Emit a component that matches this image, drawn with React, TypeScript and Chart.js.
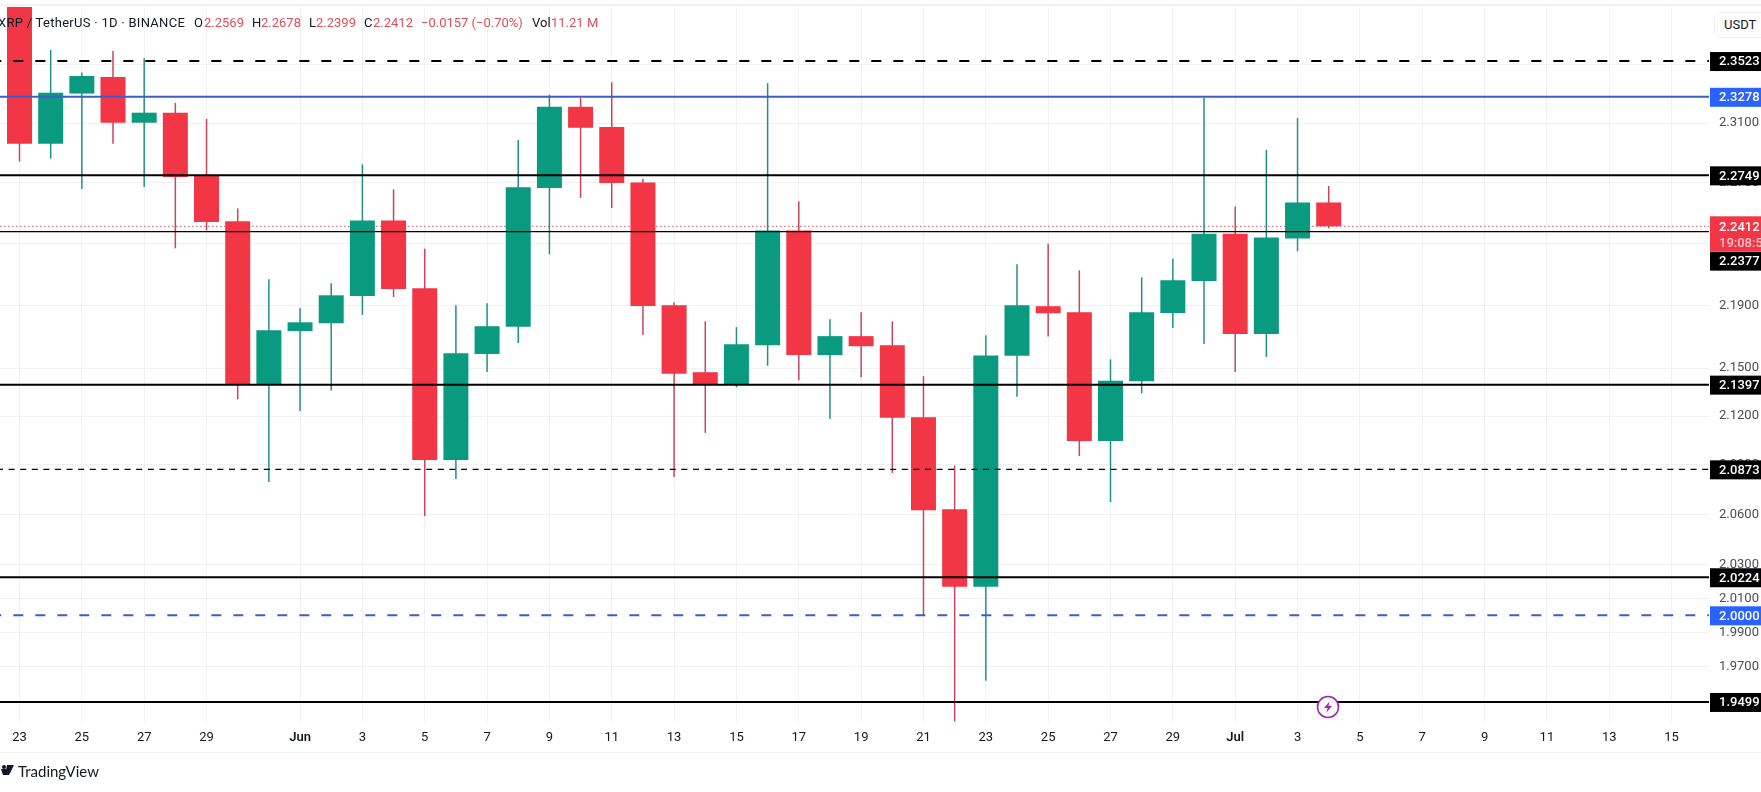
import React, { useEffect, useRef } from "react";
import { Chart, registerables } from "chart.js";

Chart.register(...registerables);

// Daily candles, 23 May to 4 Jul
const dates = [
  "May 23","May 24","May 25","May 26","May 27","May 28","May 29","May 30","May 31",
  "Jun 1","Jun 2","Jun 3","Jun 4","Jun 5","Jun 6","Jun 7","Jun 8","Jun 9","Jun 10","Jun 11","Jun 12",
  "Jun 13","Jun 14","Jun 15","Jun 16","Jun 17","Jun 18","Jun 19","Jun 20","Jun 21","Jun 22","Jun 23",
  "Jun 24","Jun 25","Jun 26","Jun 27","Jun 28","Jun 29","Jun 30","Jul 1","Jul 2","Jul 3","Jul 4",
];
const opens = [
  2.42,2.2961,2.33,2.3413,2.3102,2.317,2.2749,2.2445,2.1401,
  2.1735,2.1785,2.196,2.2451,2.201,2.093,2.159,2.1762,2.2665,2.321,2.3073,2.2702,
  2.19,2.1475,2.1401,2.1645,2.2384,2.1583,2.1703,2.1645,2.1194,2.063,2.0168,
  2.1578,2.1894,2.1855,2.1047,2.1418,2.185,2.2056,2.2364,2.1717,2.2333,2.2569,
];
const highs = [
  2.44,2.3599,2.3444,2.3592,2.3542,2.3237,2.3127,2.253,2.2067,
  2.1881,2.2041,2.2822,2.2656,2.2266,2.19,2.1913,2.2986,2.3292,2.3273,2.3377,2.2727,
  2.1919,2.1797,2.176,2.337,2.2577,2.181,2.1855,2.1797,2.145,2.0897,2.1709,
  2.2164,2.2298,2.2125,2.1556,2.208,2.2201,2.3271,2.2543,2.2919,2.3134,2.2678,
];
const lows = [
  2.2841,2.2861,2.2658,2.2961,2.2671,2.2268,2.2385,2.1305,2.0796,
  2.1233,2.1361,2.1838,2.1953,2.059,2.0814,2.1477,2.1659,2.2229,2.2599,2.2532,2.171,
  2.0826,2.1097,2.138,2.1515,2.1424,2.1183,2.1444,2.0851,2.0,1.9388,1.962,
  2.1322,2.17,2.0954,2.0674,2.1343,2.1754,2.1653,2.1477,2.1571,2.2249,2.2399,
];
const closes = [
  2.2961,2.3305,2.342,2.3102,2.317,2.2738,2.244,2.1401,2.1741,
  2.1791,2.1964,2.2451,2.2005,2.093,2.1595,2.1766,2.2669,2.321,2.3068,2.2698,2.1896,
  2.1465,2.1401,2.1651,2.2384,2.1583,2.1703,2.1639,2.119,2.0624,2.0168,2.1581,
  2.19,2.1849,2.1047,2.1422,2.1855,2.2061,2.2364,2.1717,2.2338,2.2569,2.2412,
];

// Axis ticks
const xTickDays = [0,2,4,6,9,11,13,15,17,19,21,23,25,27,29,31,33,35,37,39,41,43,45,47,49,51,53];
const xTickLabels = ["23","25","27","29","Jun","3","5","7","9","11","13","15","17","19","21","23","25","27","29","Jul","3","5","7","9","11","13","15"];
const yTickValues = [2.35,2.31,2.27,2.23,2.19,2.15,2.12,2.09,2.06,2.03,2.01,1.99,1.97];

// Horizontal levels
const solidLevels = [2.2749, 2.1397, 2.0224, 1.9499];
const thinLevel = 2.2377;
const dashedBlackLevel = 2.3523;
const shortDashLevel = 2.0873;
const blueLevel = 2.3278;
const blueDashedLevel = 2.0;
const lastPrice = 2.2412;

const UP = "#0a9a80";
const DOWN = "#f23645";
const UP_WICK = "#1f9088";
const DOWN_WICK = "#c9445c";
const FONT = "Roboto, sans-serif";

const xMin = -0.6256;
const xMax = 54.2;

function levelLine(price: number, color: string, width: number, dash: number[], order: number, offset = 0) {
  return {
    type: "line" as const,
    data: [{ x: xMin, y: price }, { x: xMax, y: price }],
    borderColor: color,
    borderWidth: width,
    borderDash: dash,
    borderDashOffset: offset,
    pointRadius: 0,
    order,
  };
}

const tagPlugin = {
  id: "priceTags",
  afterDraw(chart: any) {
    const { ctx, scales } = chart;
    const y = scales.y;
    const left = 1710;
    const tagW = 51;
    const tag = (price: number, color: string, shift = 0) => {
      const cy = y.getPixelForValue(price) + shift + 0.5;
      ctx.fillStyle = color;
      ctx.fillRect(left, cy - 9.5, tagW, 19);
      ctx.fillStyle = "#ffffff";
      ctx.font = `500 13px ${FONT}`;
      ctx.textAlign = "left";
      ctx.textBaseline = "middle";
      ctx.fillText(price.toFixed(4), 1719, cy + 0.5);
    };
    ctx.save();
    tag(dashedBlackLevel, "#000000");
    tag(blueLevel, "#2962ff");
    solidLevels.forEach((p) => tag(p, "#000000"));
    tag(shortDashLevel, "#000000");
    tag(blueDashedLevel, "#2962ff");
    // last price tag with countdown
    const ly = y.getPixelForValue(lastPrice);
    ctx.fillStyle = DOWN;
    ctx.fillRect(left, ly - 10, tagW, 35);
    ctx.fillStyle = "#ffffff";
    ctx.font = `500 13px ${FONT}`;
    ctx.textAlign = "left";
    ctx.textBaseline = "middle";
    ctx.fillText(lastPrice.toFixed(4), 1719, ly + 1.5);
    ctx.fillStyle = "#fcc7cc";
    ctx.fillText("19:08:53", 1719, ly + 17);
    tag(thinLevel, "#000000", 29);
    ctx.restore();
  },
};

const headerItems: [number, string, string, number][] = [
  [-2, "XRP / TetherUS · 1D · BINANCE", "#131722", 0.28],
  [194, "O", "#131722", 0],
  [204, "2.2569", "#dc4f5c", 0],
  [252, "H", "#131722", 0],
  [261, "2.2678", "#dc4f5c", 0],
  [309, "L", "#131722", 0],
  [316, "2.2399", "#dc4f5c", 0],
  [364, "C", "#131722", 0],
  [373, "2.2412", "#dc4f5c", 0],
  [421, "−0.0157 (−0.70%)", "#dc4f5c", 0],
  [532, "Vol", "#131722", 0],
  [551, "11.21 M", "#dc4f5c", 0],
];

export default function App() {
  const ref = useRef<HTMLCanvasElement>(null);

  useEffect(() => {
    const chart = new Chart(ref.current as HTMLCanvasElement, {
      type: "bar",
      plugins: [tagPlugin],
      data: {
        labels: dates,
        datasets: [
          levelLine(dashedBlackLevel, "#000000", 2, [10, 12], 0, 8.7),
          levelLine(blueLevel, "#3a5fcd", 2, [], 0),
          ...solidLevels.map((p) => levelLine(p, "#000000", 2, [], 0)),
          levelLine(thinLevel, "#000000", 1.4, [], 0),
          levelLine(shortDashLevel, "#000000", 1.4, [6, 5.6], 0, 3),
          levelLine(blueDashedLevel, "#3a5fcd", 2, [10, 12], 0, 8.7),
          {
            type: "bar" as const,
            data: dates.map((_, i) => ({ x: i, y: [opens[i], closes[i]] })),
            backgroundColor: dates.map((_, i) => (closes[i] >= opens[i] ? UP : DOWN)),
            barThickness: 25,
            inflateAmount: 0,
            grouped: false,
            order: 1,
          },
          {
            type: "bar" as const,
            data: dates.map((_, i) => ({ x: i, y: [lows[i], highs[i]] })),
            backgroundColor: dates.map((_, i) => (closes[i] >= opens[i] ? UP_WICK : DOWN_WICK)),
            barThickness: 1.5,
            inflateAmount: 0,
            grouped: false,
            order: 2,
          },
          levelLine(lastPrice, "#c8566a", 1, [1.5, 2.5], 3),
        ] as any,
      },
      options: {
        responsive: false,
        animation: false,
        events: [],
        layout: { padding: { top: 7, bottom: 35, left: 0, right: 0 } },
        plugins: { legend: { display: false }, tooltip: { enabled: false }, title: { display: false } },
        scales: {
          x: {
            type: "linear",
            min: xMin,
            max: xMax,
            bounds: "data",
            offset: false,
            grid: { offset: false, color: "#f0f1f5", lineWidth: 1, drawTicks: false },
            border: { display: false },
            afterBuildTicks: (scale: any) => {
              scale.ticks = xTickDays.map((value) => ({ value }));
            },
            afterFit: (scale: any) => {
              scale.height = 35;
              scale.paddingLeft = 0;
              scale.paddingRight = 0;
            },
            ticks: {
              autoSkip: false,
              maxRotation: 0,
              minRotation: 0,
              padding: 8,
              color: "#131722",
              font: (ctx: any) => ({
                family: FONT,
                size: 13,
                weight: ctx.tick && /J/.test(String(ctx.tick.label)) ? "600" : "400",
              }),
              callback: (_v: any, i: number) => xTickLabels[i],
            },
          },
          y: {
            type: "logarithmic",
            position: "right",
            min: 1.9385,
            max: 2.3898,
            bounds: "data",
            grid: { color: "#f0f1f5", lineWidth: 1, drawTicks: false },
            border: { display: false },
            afterBuildTicks: (scale: any) => {
              scale.ticks = yTickValues.map((value) => ({ value }));
            },
            afterFit: (scale: any) => {
              scale.width = 52;
              scale.paddingTop = 0;
              scale.paddingBottom = 0;
            },
            ticks: {
              autoSkip: false,
              padding: 10,
              crossAlign: "near",
              color: "#4a4d57",
              font: { family: FONT, size: 13 },
              callback: (v: any) => Number(v).toFixed(4),
            },
          },
        },
      } as any,
    });
    return () => chart.destroy();
  }, []);

  const text: React.CSSProperties = {
    position: "absolute",
    fontFamily: FONT,
    fontSize: 13,
    lineHeight: "16px",
    whiteSpace: "nowrap",
  };

  return (
    <div style={{ position: "fixed", left: 0, top: 0, width: 1761, height: 792, background: "#fff", overflow: "hidden" }}>
      <canvas ref={ref} width={1761} height={792} style={{ position: "absolute", left: 0, top: 0, width: 1761, height: 792 }} />
      <div style={{ position: "absolute", left: 0, top: 4, width: 1761, height: 2, background: "#f1f1f3" }} />
      <div style={{ position: "absolute", left: 0, top: 752, width: 1761, height: 1, background: "#f1f1f3" }} />
      {headerItems.map(([left, label, color, spacing], i) => (
        <span key={i} style={{ ...text, left, top: 15, color, letterSpacing: spacing }}>{label}</span>
      ))}
      <div style={{ position: "absolute", left: 1714, top: 12, width: 60, height: 26, border: "1px solid #eff1f5", borderRadius: 6, boxSizing: "border-box", background: "#fff" }} />
      <span style={{ ...text, left: 1724, top: 17, color: "#131722" }}>USDT</span>
      <svg style={{ position: "absolute", left: 1316, top: 695 }} width="24" height="24" viewBox="0 0 24 24">
        <circle cx="12" cy="12" r="10.5" fill="#fff" stroke="#9c27b0" strokeWidth="1.6" />
        <path d="M13.5 6.5 L8 13 L11.5 13 L10.5 17.5 L16 11 L12.5 11 Z" fill="#9c27b0" />
      </svg>
      <svg style={{ position: "absolute", left: 1, top: 764 }} width="14" height="12" viewBox="0 0 14 12">
        <circle cx="3" cy="3" r="2" fill="#131722" />
        <path d="M0 5 H5 V11 H2 Z M6 1 H13 L8 11 H4 Z" fill="#131722" />
      </svg>
      <span style={{ ...text, left: 18, top: 762, fontSize: 15, fontFamily: "Lato, sans-serif", lineHeight: "18px", color: "#131722" }}>TradingView</span>
    </div>
  );
}
